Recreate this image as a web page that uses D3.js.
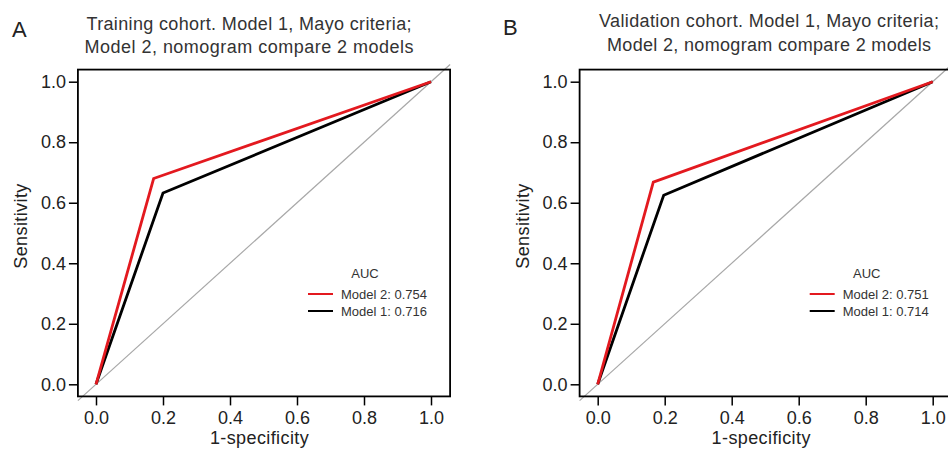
<!DOCTYPE html>
<html lang="en">
  <head>
    <meta charset="UTF-8" />
    <title>ROC compare 2 models</title>
    <script src="https://d3js.org/d3.v7.min.js"></script>
    <style>
      body { margin: 0; background: #fff; }
      text { font-family: "Liberation Sans", Arial, Helvetica, sans-serif; }
    </style>
  </head>
  <body>
    <div class="chart"></div>
  </body>

  <script>
    // values
    var panelLetters = ["A", "B"];
    var titleLines = [
      ["Training cohort. Model 1, Mayo criteria;", "Model 2, nomogram compare 2 models"],
      ["Validation cohort. Model 1, Mayo criteria;", "Model 2, nomogram compare 2 models"]
    ];
    var tickValues = [0, 0.2, 0.4, 0.6, 0.8, 1.0];

    // ROC points (1-specificity, sensitivity)
    var trainModel2Fpr = [0, 0.172, 1];
    var trainModel2Sens = [0, 0.68, 1];
    var trainModel1Fpr = [0, 0.2, 1];
    var trainModel1Sens = [0, 0.632, 1];

    var validModel2Fpr = [0, 0.166, 1];
    var validModel2Sens = [0, 0.668, 1];
    var validModel1Fpr = [0, 0.197, 1];
    var validModel1Sens = [0, 0.625, 1];

    var legendLabels = [
      ["Model 2: 0.754", "Model 1: 0.716"],
      ["Model 2: 0.751", "Model 1: 0.714"]
    ];

    var W = 948, H = 449;
    var red = "#e3191f";

    var svg = d3.select(".chart").append("svg")
      .attr("width", W).attr("height", H);

    // per panel layout (title widths)
    var panels = [
      { ox: 96, titleX: 249, titleY: 29.5, titleW: [325, 329], letterX: 12, letterY: 37,
        fpr: [trainModel2Fpr, trainModel1Fpr], sens: [trainModel2Sens, trainModel1Sens] },
      { ox: 597.7, titleX: 769, titleY: 27, titleW: [340, 324], letterX: 503, letterY: 35,
        fpr: [validModel2Fpr, validModel1Fpr], sens: [validModel2Sens, validModel1Sens] }
    ];

    panels.forEach(function (p, i) {
      var x = d3.scaleLinear().domain([0, 1]).range([p.ox, p.ox + 335]);
      var y = d3.scaleLinear().domain([0, 1]).range([384.3, 81.7]);
      var g = svg.append("g");

      var x0 = -0.054, x1 = 1.057, y0 = -0.04, y1 = 1.04;

      // diagonal reference line
      g.append("line")
        .attr("x1", x(x0)).attr("y1", y(x0))
        .attr("x2", x(x1)).attr("y2", y(x1))
        .attr("stroke", "#a8a8a8").attr("stroke-width", 1.2);

      // ROC curves, model 1 under model 2
      var line = d3.line().x(function (d) { return x(d[0]); }).y(function (d) { return y(d[1]); });
      [1, 0].forEach(function (k) {
        var pts = p.fpr[k].map(function (f, j) { return [f, p.sens[k][j]]; });
        g.append("path").datum(pts)
          .attr("d", line)
          .attr("fill", "none")
          .attr("stroke", k === 0 ? red : "#000")
          .attr("stroke-width", 2.8)
          .attr("stroke-linejoin", "miter");
      });

      // box
      g.append("rect")
        .attr("x", x(x0)).attr("y", y(y1))
        .attr("width", x(x1) - x(x0)).attr("height", y(y0) - y(y1))
        .attr("fill", "none").attr("stroke", "#000").attr("stroke-width", 1.8);

      var yAxis = d3.axisLeft(y).tickValues(tickValues).tickFormat(d3.format(".1f"))
        .tickSize(9).tickPadding(3);
      var ya = g.append("g").attr("transform", "translate(" + x(x0) + ",0)").call(yAxis);

      var xAxis = d3.axisBottom(x).tickValues(tickValues).tickFormat(d3.format(".1f"))
        .tickSize(9).tickPadding(5.5);
      var xa = g.append("g").attr("transform", "translate(0," + y(y0) + ")").call(xAxis);

      [ya, xa].forEach(function (a) {
        a.select(".domain").remove();
        a.selectAll(".tick line").attr("stroke", "#000").attr("stroke-width", 1.5);
        a.selectAll(".tick text").attr("fill", "#222").style("font-size", "18px")
          .style("font-family", '"Liberation Sans", Arial, sans-serif');
      });

      // axis titles
      g.append("text")
        .attr("x", x(0.5) - 4).attr("y", 444)
        .attr("text-anchor", "middle").attr("fill", "#222").style("font-size", "18px")
        .style("letter-spacing", "0.4px")
        .text("1-specificity");
      g.append("text")
        .attr("transform", "translate(" + (x(x0) - 51) + "," + (y(0.5) - 7) + ") rotate(-90)")
        .attr("text-anchor", "middle").attr("fill", "#222").style("font-size", "18px")
        .style("letter-spacing", "0.4px")
        .text("Sensitivity");

      // title
      titleLines[i].forEach(function (t, j) {
        g.append("text")
          .attr("x", p.titleX - p.titleW[j] / 2).attr("y", p.titleY + j * 23.5)
          .attr("textLength", p.titleW[j]).attr("lengthAdjust", "spacing")
          .attr("fill", "#333").style("font-size", "18px")
          .text(t);
      });

      // panel letter
      g.append("text")
        .attr("x", p.letterX).attr("y", p.letterY)
        .attr("fill", "#222").style("font-size", "22px")
        .text(panelLetters[i]);

      // legend
      var lx = x(0) + 212;
      g.append("text")
        .attr("x", lx + 57).attr("y", 278)
        .attr("text-anchor", "middle").attr("fill", "#333").style("font-size", "13px")
        .text("AUC");
      [red, "#000"].forEach(function (c, j) {
        var ly = 294 + j * 17;
        g.append("line")
          .attr("x1", lx).attr("x2", lx + 25).attr("y1", ly).attr("y2", ly)
          .attr("stroke", c).attr("stroke-width", 2);
        g.append("text")
          .attr("x", lx + 33).attr("y", ly + 5)
          .attr("fill", "#333").style("font-size", "13px")
          .text(legendLabels[i][j]);
      });
    });
  </script>
</html>
